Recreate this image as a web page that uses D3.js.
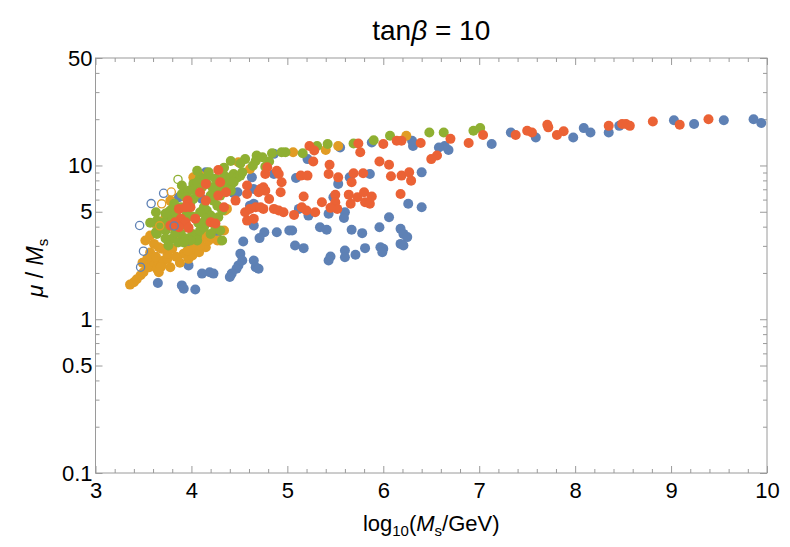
<!DOCTYPE html>
<html>
<head>
<meta charset="utf-8">
<script src="https://cdn.jsdelivr.net/npm/d3@7"></script>
<style>
  body { margin: 0; background: #fff; }
  text { font-family: "Liberation Sans", Arial, sans-serif; }
</style>
</head>
<body>
<div id="chart"></div>
<script>
// series: [log10(Ms/GeV), mu/Ms]
var blue = [
  [9.94,18.9],[9.86,20.0],[9.55,19.7],[9.24,18.6],[9.03,19.7],[8.46,18.1],[8.35,16.4],[8.16,16.4],
  [8.09,17.5],[7.98,15.2],[7.59,15.2],[7.33,16.4],[7.13,13.8],[6.68,12.6],[6.64,13.4],[6.58,13.1],
  [6.31,13.4],[6.30,14.5],[5.88,14.1],[5.55,13.1],[5.21,11.0],[4.86,11.9],
  [6.40,9.02],[6.26,5.63],[6.40,5.35],[5.86,8.81],[5.65,8.37],[5.53,7.59],[5.48,6.21],[5.09,8.30],
  [4.86,8.81],[4.63,8.37],[4.15,9.02],[4.18,8.59],[4.28,6.86],[4.48,6.69],[4.65,7.04],[4.44,6.59],
  [4.11,6.06],[3.87,6.21],
  [5.12,5.22],[5.22,4.72],[5.43,4.85],[5.60,4.96],[5.59,4.56],[6.06,4.61],[5.05,3.78],[5.34,3.97],
  [5.41,3.82],[5.67,3.82],[5.78,3.63],[5.96,3.97],[6.18,3.87],[6.21,3.59],[6.25,3.42],[5.08,3.02],
  [5.17,2.90],[5.60,2.80],[5.81,2.90],[5.97,2.94],[6.00,2.87],[5.99,2.73],[6.18,3.09],[6.21,3.02],
  [5.45,2.56],[5.43,2.41],[5.60,2.53],[5.71,2.63],[4.76,3.68],[4.89,3.68],[5.02,3.78],[4.65,4.07],
  [4.71,3.37],[4.54,3.20],[4.51,2.67],[4.53,2.41],[4.49,2.24],[4.47,2.13],[4.42,1.98],[4.40,1.88],
  [4.65,2.41],[4.67,2.18],[4.70,2.13],[4.23,1.98],[4.19,2.02],[4.11,1.98],[3.97,2.24],[3.65,1.72],
  [3.90,1.66],[3.92,1.58],[4.04,1.56],[4.61,5.48],[4.65,5.63],[4.26,3.50],[3.99,2.94]
];
var orange = [
  [6.24,15.6],[5.53,13.4],[5.40,12.6],[5.06,12.2],[4.61,9.49],[4.49,10.5],[4.02,8.37],[4.04,7.59],
  [4.09,8.59],[4.35,8.37],[3.73,4.61],[3.76,4.96],[3.80,5.22],[4.35,5.09],[4.34,3.78],[4.09,3.25],
  [4.15,2.94],[4.27,3.25],[3.78,5.91],
  [3.36,1.68],[3.40,1.74],[3.43,1.82],[3.47,1.93],[3.50,2.02],[3.52,2.30],[3.56,2.18],[3.61,2.35],
  [3.64,2.13],[3.66,2.30],[3.69,2.24],[3.71,2.41],[3.75,2.47],[3.78,2.18],[3.75,2.67],[3.61,3.09],
  [3.66,2.94],[3.69,2.87],[3.80,2.87],[3.92,2.67],[3.97,2.47],[4.01,2.60],[4.02,2.87],[4.08,2.73],
  [4.09,3.02],[4.13,3.59],[3.96,2.80],[4.18,3.25],[4.30,3.25],[4.37,5.22],[3.68,2.18],[3.66,2.02],
  [3.71,4.38],[3.64,4.07],[3.57,3.50],[3.52,3.25],[3.84,3.42],
  [3.57,2.72],[3.54,2.48],[3.63,2.55],[3.84,2.55],[3.88,2.33],[3.49,2.33],[4.20,3.45]
];
var green = [
  [7.01,17.5],[6.94,16.8],[6.63,16.4],[6.48,16.4],[6.07,15.6],[5.90,14.6],[5.69,13.9],[5.42,13.8],
  [5.31,13.4],[5.16,12.0],[4.98,12.2],[4.94,12.2],[4.84,12.0],[4.68,11.6],[4.67,10.7],[4.81,10.6],
  [4.77,9.82],[4.56,11.0],[4.41,10.7],[4.51,10.3],
  [4.34,8.59],[4.41,8.37],[4.44,8.81],[4.48,8.37],[4.51,8.59],[4.53,9.02],[4.41,7.40],[4.37,7.59],
  [4.44,7.77],[4.41,6.86],[4.09,8.37],[4.13,8.17],[4.16,7.59],[4.18,8.59],[4.18,9.02],[4.01,7.04],
  [4.02,7.59],[4.06,7.77],[4.11,7.21],[3.90,7.40],[3.90,6.53],[3.89,5.35],[3.96,5.48],[3.99,5.76],
  [4.02,6.06],[4.06,6.53],[3.82,5.63],[3.78,5.09],[3.82,5.35],[3.63,4.96],[3.78,4.51],[3.66,4.13],
  [3.69,4.19],[3.64,4.38],[3.71,4.27],[3.63,3.68],[3.64,3.59],[3.80,3.35],[3.89,3.59],[3.96,3.97],
  [4.01,3.59],[4.06,3.50],[4.09,3.78],[4.13,3.97],[4.15,4.19],[4.18,4.38],[4.22,4.27],[4.25,3.87],
  [4.30,3.78],[4.32,3.25],[4.20,3.59],[4.06,3.25],[4.23,5.91],[4.27,5.48],[4.32,5.09],[4.28,4.61],
  [4.13,5.35],[4.16,5.09],[4.09,4.96],[4.20,4.72],[4.15,4.51],[3.73,3.78],[3.83,3.89],[3.94,3.35],
  [3.99,3.25],[3.76,3.02],[3.86,3.16],[4.23,6.86],[4.28,7.40],[4.35,7.04],[4.27,6.86],[4.22,7.21],
  [3.73,4.87],[3.84,4.87],[3.95,4.80],[4.01,4.66],[4.07,4.24],[3.83,3.67],[3.73,3.35],[3.92,3.16],
  [3.70,3.89],[3.57,4.24],[3.97,6.86],[3.94,6.21],[4.20,6.37],[4.30,6.37],[4.32,7.62],[4.25,8.21],
  [4.06,9.25],[4.34,9.68],[4.64,9.97],[4.74,11.3]
];
var red = [
  [9.39,20.0],[9.09,18.4],[8.81,19.3],[8.57,18.1],[8.53,18.6],[8.49,18.6],[8.35,18.1],[7.88,16.7],
  [7.81,15.8],[7.72,17.7],[7.71,18.4],[7.55,16.4],[7.50,16.8],[7.38,15.8],[7.04,15.8],[6.89,14.0],
  [6.70,14.9],[6.56,11.6],[6.50,11.0],[6.39,14.0],[6.19,14.5],[6.14,14.5],[6.00,13.8],[5.74,13.9],
  [5.76,12.2],[5.23,13.4],[5.28,12.5],
  [5.27,10.6],[5.44,10.1],[5.43,8.81],[5.53,8.37],[5.14,8.59],[5.21,8.59],[5.69,8.89],[5.67,7.77],
  [5.79,8.89],[5.96,10.6],[6.06,10.1],[6.08,8.50],[6.19,8.59],[6.27,9.02],[6.29,7.97],[6.18,6.53],
  [5.17,6.28],[5.36,5.76],[5.50,6.44],[5.64,6.46],[5.66,5.63],[5.73,6.21],[5.80,6.69],[5.81,5.76],
  [5.88,6.28],[5.86,5.63],[5.50,5.76],[5.52,5.22],[5.45,5.30],[5.15,5.35],[5.20,5.09],[5.29,4.96],
  [5.07,4.77],[4.79,9.72],[4.77,8.81],[4.89,9.25],[4.91,8.81],[4.94,7.77],[4.75,7.21],[4.77,6.86],
  [4.93,6.69],[4.81,6.06],[4.75,5.22],[4.86,5.22],[4.91,5.09],[4.96,4.96],[4.28,9.35],[4.70,6.69],
  [4.58,7.40],[4.58,6.53],[4.30,7.77],[4.28,6.37],[4.46,5.91],[4.15,5.91],[4.56,4.96],[4.61,5.22],
  [4.67,5.35],[4.72,5.35],[4.58,4.38],[4.65,4.51],[4.72,7.04],[4.34,5.35],[4.36,6.70],[4.15,7.59],
  [4.20,4.27],[4.25,4.19],[3.87,5.22],[3.96,5.91],[3.99,5.35],[3.89,4.51],[3.94,4.27],[3.97,3.93],
  [3.83,4.27],[3.87,3.97],[4.04,4.51],[3.78,4.07],[3.94,5.35],[4.09,6.67]
];
// open markers
var blueOpen = [[3.46,4.07],[3.50,2.77],[3.47,2.18],[3.58,5.65],[3.71,6.59],[3.82,4.04]];
var orangeOpen = [[3.69,5.63],[3.79,6.72],[3.67,4.05]];
var greenOpen = [[3.86,8.12]];

var xMajor = [3, 4, 5, 6, 7, 8, 9, 10];
var yMajor = [0.1, 0.5, 1, 5, 10, 50];
var yMinor = [0.2, 0.3, 0.4, 0.6, 0.7, 0.8, 0.9, 2, 3, 4, 6, 7, 8, 9, 20, 30, 40];

var W = 790, H = 547;
var mLeft = 95.5, mRight = 767, mTop = 58, mBottom = 473;

var svg = d3.select("#chart").append("svg").attr("width", W).attr("height", H);

var x = d3.scaleLinear().domain([3, 10]).range([mLeft, mRight]);
var y = d3.scaleLog().domain([0.1, 50]).range([mBottom, mTop]);

var xMinor = d3.range(3, 10.001, 0.2).map(function(d) { return +d.toFixed(1); })
  .filter(function(d) { return xMajor.indexOf(d) < 0; });

var frameColor = "#9a9a9a";

function styleAxis(g) {
  g.select(".domain").remove();
  g.selectAll(".tick line").attr("stroke", frameColor);
  g.selectAll(".tick text").attr("fill", "#000").style("font-size", "22px");
}

var yFmt = function(d) { return d < 1 ? d3.format(".1f")(d) : d3.format("d")(d); };

// bottom
svg.append("g").attr("transform", "translate(0," + mBottom + ")")
  .call(d3.axisBottom(x).tickValues(xMajor).tickSize(-7).tickPadding(9).tickFormat(d3.format("d")))
  .call(styleAxis);
svg.append("g").attr("transform", "translate(0," + mBottom + ")")
  .call(d3.axisBottom(x).tickValues(xMinor).tickSize(-4).tickFormat(""))
  .call(styleAxis);
// top
svg.append("g").attr("transform", "translate(0," + mTop + ")")
  .call(d3.axisTop(x).tickValues(xMajor).tickSize(-7).tickFormat(""))
  .call(styleAxis);
svg.append("g").attr("transform", "translate(0," + mTop + ")")
  .call(d3.axisTop(x).tickValues(xMinor).tickSize(-4).tickFormat(""))
  .call(styleAxis);
// left
svg.append("g").attr("transform", "translate(" + mLeft + ",0)")
  .call(d3.axisLeft(y).tickValues(yMajor).tickSize(-7).tickPadding(3).tickFormat(yFmt))
  .call(styleAxis);
svg.append("g").attr("transform", "translate(" + mLeft + ",0)")
  .call(d3.axisLeft(y).tickValues(yMinor).tickSize(-4).tickFormat(""))
  .call(styleAxis);
// right
svg.append("g").attr("transform", "translate(" + mRight + ",0)")
  .call(d3.axisRight(y).tickValues(yMajor).tickSize(-7).tickFormat(""))
  .call(styleAxis);
svg.append("g").attr("transform", "translate(" + mRight + ",0)")
  .call(d3.axisRight(y).tickValues(yMinor).tickSize(-4).tickFormat(""))
  .call(styleAxis);

svg.append("rect")
  .attr("x", mLeft).attr("y", mTop)
  .attr("width", mRight - mLeft).attr("height", mBottom - mTop)
  .attr("fill", "none").attr("stroke", frameColor).attr("stroke-width", 1);

var R = 5;
function dots(data, color) {
  svg.append("g").selectAll("circle").data(data).enter().append("circle")
    .attr("cx", function(d) { return x(d[0]); })
    .attr("cy", function(d) { return y(d[1]); })
    .attr("r", R)
    .attr("fill", color);
}
function rings(data, color) {
  svg.append("g").selectAll("circle").data(data).enter().append("circle")
    .attr("cx", function(d) { return x(d[0]); })
    .attr("cy", function(d) { return y(d[1]); })
    .attr("r", R - 0.9)
    .attr("fill", "none")
    .attr("stroke", color)
    .attr("stroke-width", 1.3);
}

dots(blue, "#5e81b5");
dots(orange, "#e19c24");
dots(green, "#8fb032");
dots(red, "#eb6235");
rings(blueOpen, "#5e81b5");
rings(orangeOpen, "#e19c24");
rings(greenOpen, "#8fb032");

// title
var title = svg.append("text").attr("x", (mLeft + mRight) / 2).attr("y", 40)
  .attr("text-anchor", "middle").style("font-size", "28px");
title.append("tspan").text("tan");
title.append("tspan").style("font-style", "italic").text("β");
title.append("tspan").text(" = 10");

// x label
var xl = svg.append("text").attr("x", (mLeft + mRight) / 2).attr("y", 531)
  .attr("text-anchor", "middle").style("font-size", "22px");
xl.append("tspan").text("log");
xl.append("tspan").attr("dy", 5).style("font-size", "15px").text("10");
xl.append("tspan").attr("dy", -5).text("(");
xl.append("tspan").style("font-style", "italic").text("M");
xl.append("tspan").attr("dy", 5).style("font-size", "15px").text("s");
xl.append("tspan").attr("dy", -5).text("/GeV)");

// y label
var yl = svg.append("text").attr("transform", "translate(43,268) rotate(-90)")
  .attr("text-anchor", "middle").style("font-size", "23px");
yl.append("tspan").style("font-style", "italic").text("μ");
yl.append("tspan").text(" / ");
yl.append("tspan").style("font-style", "italic").text("M");
yl.append("tspan").attr("dy", 5).style("font-size", "15px").text("s");
</script>
</body>
</html>
